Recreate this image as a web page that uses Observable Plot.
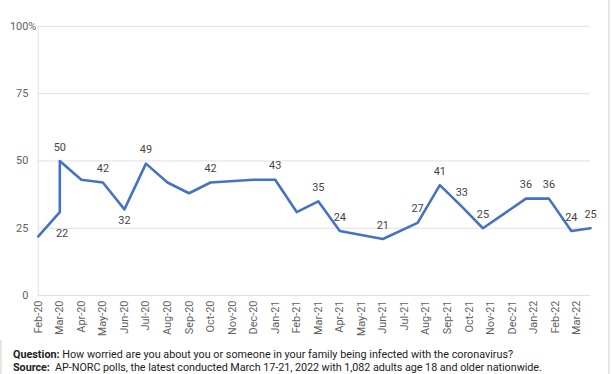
<!DOCTYPE html>
<html>
<head>
<meta charset="utf-8">
<script src="https://cdn.jsdelivr.net/npm/d3@7"></script>
<script src="https://cdn.jsdelivr.net/npm/@observablehq/plot@0.6"></script>
<style>
  html, body { margin: 0; padding: 0; background: #fff; }
  #wrap {
    position: absolute; left: 0; top: 0; width: 606px; height: 374px;
    border-left: 2px solid #e6e6e6; border-right: 2px solid #e6e6e6;
    font-family: Roboto, "Noto Sans", sans-serif;
  }
  #chart { position: absolute; left: -2px; top: 0; }
  #caption {
    position: absolute; left: 11px; top: 348px;
    font-size: 10.8px; line-height: 13px; color: #222; white-space: nowrap;
  }
  #caption b { font-weight: 700; }
  #caption .src { letter-spacing: -0.05px; }
</style>
</head>
<body>
<div id="wrap">
  <div id="chart"></div>
  <div id="caption">
    <div><b>Question:</b> How worried are you about you or someone in your family being infected with the coronavirus?</div>
    <div class="src"><b>Source:</b>&nbsp; AP-NORC polls, the latest conducted March 17-21, 2022 with 1,082 adults age 18 and older nationwide.</div>
  </div>
</div>
<script>
// Poll dates and % worried
const pollDates = [
  "2020-02-01", "2020-03-01", "2020-03-01", "2020-04-01", "2020-05-01",
  "2020-06-01", "2020-07-01", "2020-08-01", "2020-09-01", "2020-10-01",
  "2020-12-01", "2021-01-01", "2021-02-01", "2021-03-01", "2021-04-01",
  "2021-06-01", "2021-07-20", "2021-08-21", "2021-09-21", "2021-10-21",
  "2021-12-21", "2022-01-23", "2022-02-22", "2022-03-21"
];
const worried = [
  22, 31, 50, 43, 42,
  32, 49, 42, 38, 42,
  43, 43, 31, 35, 24,
  21, 27, 41, 33, 25,
  36, 36, 24, 25
];
// which points carry a data label
const labelAbove = [2, 4, 6, 9, 11, 13, 14, 15, 16, 17, 18, 19, 20, 21, 22, 23];
const labelBelow = [5];
const labelSide = [0];

const monthTicks = [
  "Feb-20", "Mar-20", "Apr-20", "May-20", "Jun-20", "Jul-20", "Aug-20", "Sep-20",
  "Oct-20", "Nov-20", "Dec-20", "Jan-21", "Feb-21", "Mar-21", "Apr-21", "May-21",
  "Jun-21", "Jul-21", "Aug-21", "Sep-21", "Oct-21", "Nov-21", "Dec-21", "Jan-22",
  "Feb-22", "Mar-22"
];
const yTicks = [0, 25, 50, 75, 100];

// month position: months since Jan 2020, with fractional day
function monthIndex(s) {
  const [y, m, d] = s.split("-").map(Number);
  const dim = new Date(Date.UTC(y, m, 0)).getUTCDate();
  return (y - 2020) * 12 + (m - 1) + (d - 1) / dim;
}

const data = pollDates.map((d, i) => ({ x: monthIndex(d), y: worried[i], v: worried[i] }));
const xMin = monthIndex(pollDates[0]);
const xMax = monthIndex(pollDates[pollDates.length - 1]);
const tickPositions = monthTicks.map((_, i) => xMin + i);

const textColor = "#444";
const tickColor = "#5f5f5f";
const chart = Plot.plot({
  width: 612,
  height: 342,
  marginLeft: 38,
  marginRight: 18,
  marginTop: 26,
  marginBottom: 45,
  style: { fontFamily: "Roboto, 'Noto Sans', sans-serif", fontSize: "11px", background: "#fff" },
  x: { type: "linear", domain: [xMin, xMax] },
  y: { domain: [0, 100] },
  marks: [
    Plot.gridY(yTicks, { stroke: "#e0e0e0", strokeOpacity: 1, strokeWidth: 1 }),
    Plot.ruleX([xMin], { y1: 0, y2: 100, stroke: "#e0e0e0", strokeWidth: 1 }),
    Plot.axisY(yTicks, { tickSize: 0, tickPadding: 10, fontSize: 11, fill: tickColor, label: null }),
    Plot.text([100], { x: xMin, y: d => d, text: () => "%", textAnchor: "start", dx: -10, fontSize: 11, fill: tickColor }),
    Plot.axisX(tickPositions, {
      tickFormat: (d, i) => monthTicks[i],
      tickRotate: -90, tickSize: 0, tickPadding: 5, fontSize: 11, fill: tickColor, label: null
    }),
    Plot.line(data, { x: "x", y: "y", stroke: "#4472c4", strokeWidth: 2.6, strokeLinejoin: "round" }),
    Plot.text(labelAbove.map(i => data[i]), { x: "x", y: "y", text: "v", dy: -14, fontSize: 11, fill: textColor }),
    Plot.text(labelBelow.map(i => data[i]), { x: "x", y: "y", text: "v", dy: 11, fontSize: 11, fill: textColor }),
    Plot.text(labelSide.map(i => data[i]), { x: "x", y: "y", text: "v", dx: 24, dy: -3, fontSize: 11, fill: textColor })
  ]
});
document.getElementById("chart").appendChild(chart);
</script>
</body>
</html>
